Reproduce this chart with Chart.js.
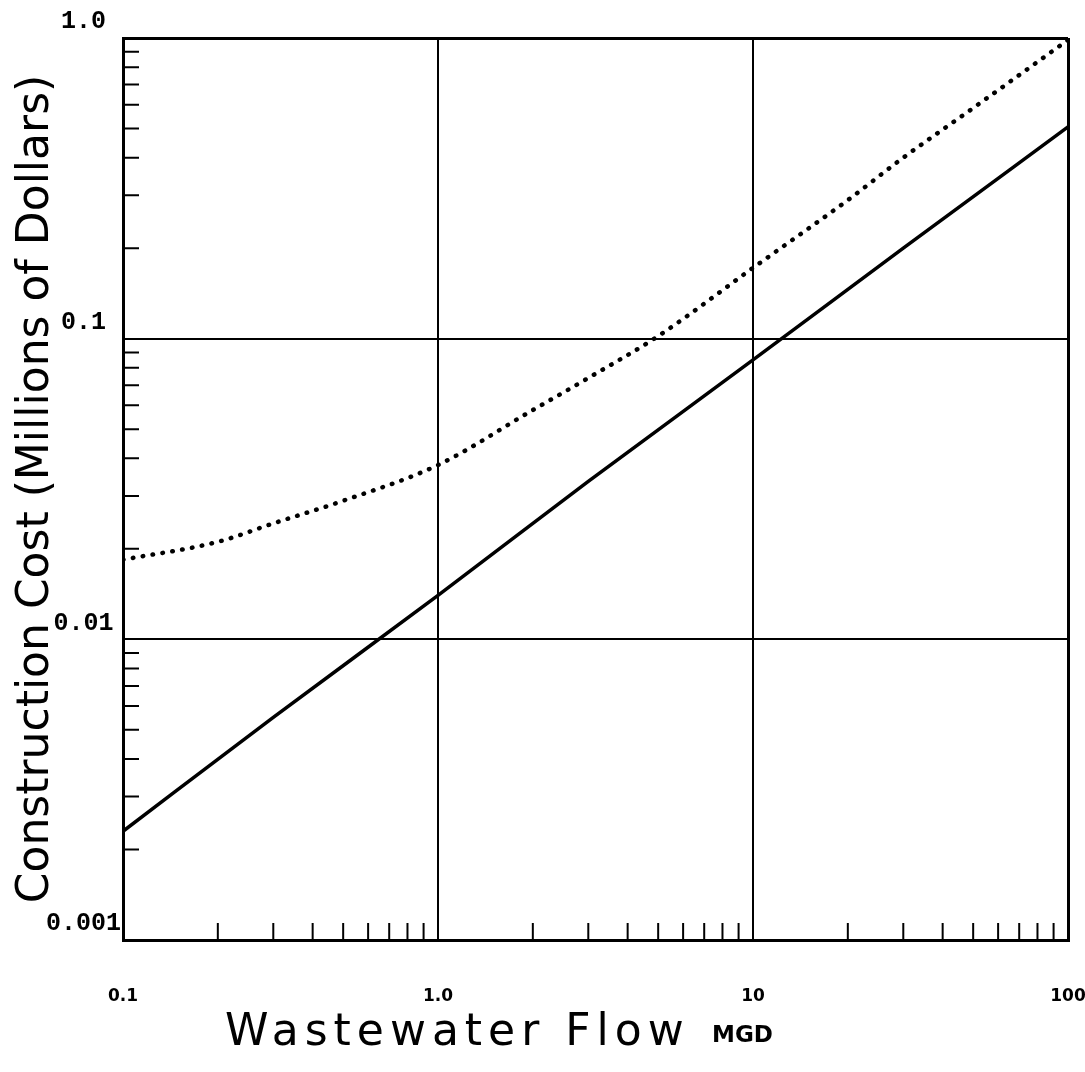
<!DOCTYPE html>
<html>
<head>
<meta charset="utf-8">
<script src="https://cdn.jsdelivr.net/npm/chart.js@4/dist/chart.umd.min.js"></script>
<style>
  html, body { margin: 0; padding: 0; background: #fff; }
  #wrap { width: 1085px; height: 1072px; }
</style>
</head>
<body>
<div id="wrap"><canvas id="chart"></canvas></div>
<script>
// values (log-log)
const flowUpper = [0.1, 0.2, 0.3, 0.5, 1, 2, 3, 5, 10, 20, 30, 50, 100]
const costUpper = [0.0184, 0.0211, 0.0243, 0.0289, 0.038, 0.0579, 0.074, 0.102, 0.172, 0.289, 0.40, 0.585, 0.985]

const flowLower = [0.1, 0.3, 1, 3, 10, 30, 100]
const costLower = [0.0023, 0.0055, 0.014, 0.0335, 0.085, 0.2, 0.506]

const xMajor = [0.1, 1, 10, 100]
const xLabels = ['0.1', '1.0', '10', '100']
const xMinor = [0.2, 0.3, 0.4, 0.5, 0.6, 0.7, 0.8, 0.9, 2, 3, 4, 5, 6, 7, 8, 9, 20, 30, 40, 50, 60, 70, 80, 90]

const yMajor = [0.001, 0.01, 0.1, 1]
const yLabels = ['0.001', '0.01', '0.1', '1.0']
const yMinor = [0.002, 0.003, 0.004, 0.005, 0.006, 0.007, 0.008, 0.009, 0.02, 0.03, 0.04, 0.05, 0.06, 0.07, 0.08, 0.09, 0.2, 0.3, 0.4, 0.5, 0.6, 0.7, 0.8, 0.9]

const toPoints = (xs, ys) => xs.map((x, i) => ({ x, y: ys[i] }))

// frame edges a bit heavier than the inner grid
const gridWidth = ctx => (ctx.index === 0 || ctx.index === 3) ? 3 : 2

// short inward minor ticks + the x axis title
const paperPlugin = {
  id: 'paper',
  afterDraw(chart) {
    const { ctx, chartArea, scales } = chart
    ctx.save()
    ctx.strokeStyle = '#000'
    ctx.lineWidth = 2
    ctx.beginPath()
    xMinor.forEach(v => {
      const px = scales.x.getPixelForValue(v)
      ctx.moveTo(px, chartArea.bottom)
      ctx.lineTo(px, chartArea.bottom - 17)
    })
    yMinor.forEach(v => {
      const py = scales.y.getPixelForValue(v)
      ctx.moveTo(chartArea.left, py)
      ctx.lineTo(chartArea.left + 16, py)
    })
    ctx.stroke()

    ctx.fillStyle = '#000'
    ctx.textBaseline = 'alphabetic'
    ctx.textAlign = 'left'
    ctx.font = '44px "DejaVu Sans"'
    ctx.letterSpacing = '6px'
    ctx.fillText('Wastewater Flow', 225, 1045)
    ctx.letterSpacing = '0px'
    ctx.font = 'bold 23px "DejaVu Sans"'
    ctx.fillText('MGD', 712, 1042)
    ctx.restore()
  }
}

new Chart(document.getElementById('chart'), {
  type: 'line',
  data: {
    datasets: [
      {
        label: 'upper',
        data: toPoints(flowUpper, costUpper),
        borderColor: '#000',
        borderWidth: 4.5,
        borderDash: [0.5, 9.5],
        borderCapStyle: 'round',
        pointRadius: 0,
        cubicInterpolationMode: 'monotone'
      },
      {
        label: 'lower',
        data: toPoints(flowLower, costLower),
        borderColor: '#000',
        borderWidth: 3.5,
        pointRadius: 0,
        cubicInterpolationMode: 'monotone'
      }
    ]
  },
  options: {
    responsive: true,
    maintainAspectRatio: false,
    animation: false,
    layout: { padding: { top: 38, right: 17, left: 0, bottom: 0 } },
    plugins: {
      legend: { display: false },
      tooltip: { enabled: false }
    },
    scales: {
      x: {
        type: 'logarithmic',
        min: 0.1,
        max: 100,
        afterBuildTicks: scale => { scale.ticks = xMajor.map(v => ({ value: v })) },
        afterFit: scale => {
          scale.height = 132
          scale.paddingLeft = 0
          scale.paddingRight = 0
        },
        border: { display: true, color: '#000', width: 3 },
        grid: { color: '#000', lineWidth: gridWidth, drawTicks: false },
        ticks: {
          autoSkip: false,
          maxRotation: 0,
          padding: 46,
          color: '#000',
          font: { family: '"DejaVu Sans"', size: 17, weight: 'bold' },
          callback: (value, index) => xLabels[index]
        }
      },
      y: {
        type: 'logarithmic',
        min: 0.001,
        max: 1,
        afterBuildTicks: scale => { scale.ticks = yMajor.map(v => ({ value: v })) },
        afterFit: scale => {
          scale.width = 123
          scale.paddingTop = 0
          scale.paddingBottom = 0
        },
        border: { display: true, color: '#000', width: 3 },
        grid: { color: '#000', lineWidth: gridWidth, drawTicks: false },
        title: {
          display: true,
          text: 'Construction Cost (Millions of Dollars)',
          color: '#000',
          font: { family: '"DejaVu Sans"', size: 44 },
          padding: { top: 10, bottom: 0 }
        },
        ticks: {
          autoSkip: false,
          crossAlign: 'center',
          padding: 2,
          labelOffset: -16,
          color: '#000',
          font: { family: '"Liberation Mono"', size: 25, weight: 'bold' },
          callback: (value, index) => yLabels[index]
        }
      }
    }
  },
  plugins: [paperPlugin]
})
</script>
</body>
</html>
